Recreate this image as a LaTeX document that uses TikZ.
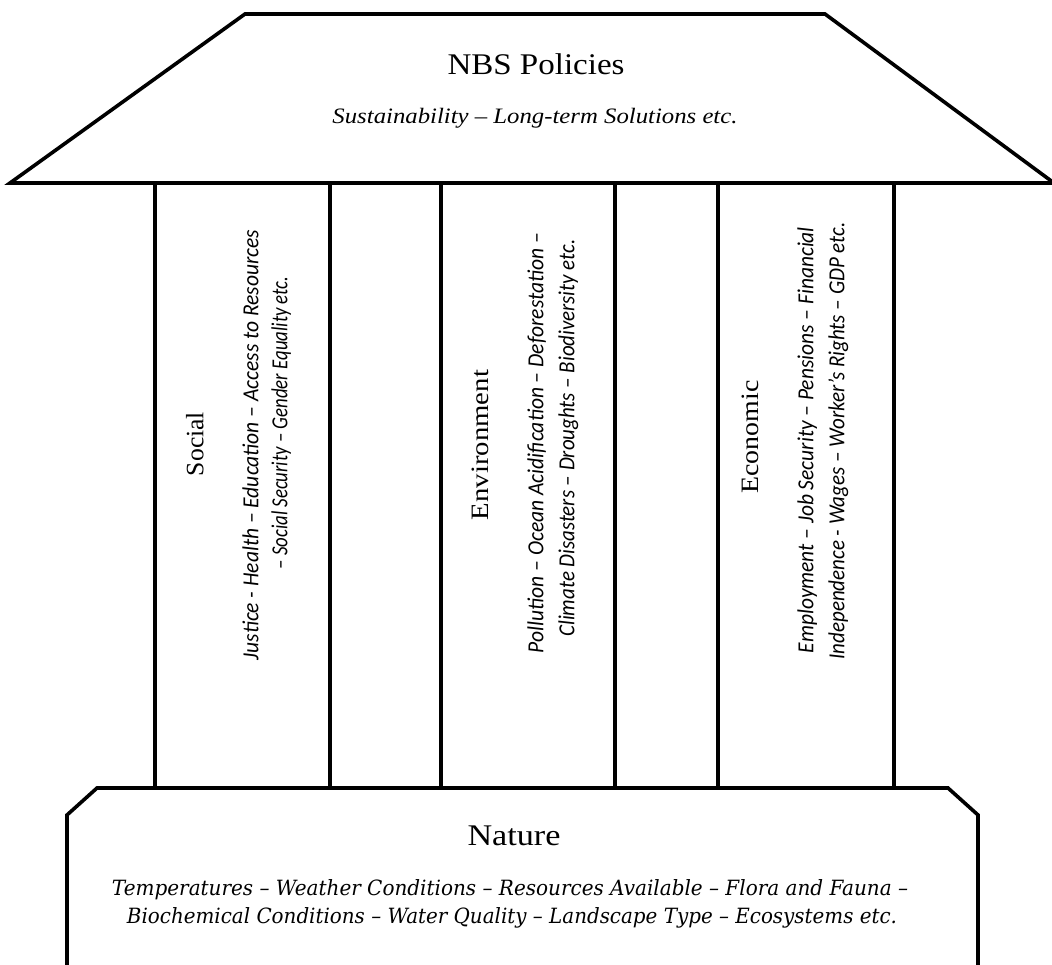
\documentclass[tikz,border=0pt]{standalone}
\usepackage{fontspec}
\usepackage{graphicx}
\setmainfont{Liberation Serif}
\newfontfamily\pilfont{Carlito}
\newfontfamily\natfont{DejaVu Serif}
\newcommand\fitw[2]{\resizebox{#1}{\height}{#2}}
\begin{document}
\begin{tikzpicture}[x=1pt,y=-1pt,
  part/.style={draw=black, line width=3.6pt, line join=miter},
  head/.style={inner sep=0pt, anchor=base, font=\fontsize{30}{36}\selectfont},
  phead/.style={inner sep=0pt, rotate=90, anchor=mid, font=\fontsize{25}{30}\selectfont},
  ptext/.style={inner sep=0pt, rotate=90, anchor=mid, font=\pilfont\itshape\fontsize{23}{27}\selectfont},
  ntext/.style={inner sep=0pt, anchor=base, font=\natfont\itshape\fontsize{21}{25}\selectfont},
  stext/.style={inner sep=0pt, anchor=base, font=\itshape\fontsize{22}{26}\selectfont}]
\useasboundingbox (0,0) rectangle (1052,965);
\clip (0,0) rectangle (1052,965);
\fill[white] (0,0) rectangle (1052,965);
% roof
\draw[part] (245,14) -- (825,14) -- (1054,183) -- (10,183) -- cycle;
% pillars
\draw[part] (155,183) rectangle (330,788);
\draw[part] (441,183) rectangle (615,788);
\draw[part] (718,183) rectangle (894,788);
% base
\draw[part] (67,980) -- (67,815) -- (97,788) -- (948,788) -- (978,815) -- (978,980);
% roof text
\node[head] (nbs) at (536,75) {\fitw{177pt}{NBS Policies}};
\node[stext] (sus) at (535,124) {\fitw{405pt}{Sustainability – Long-term Solutions etc.}};
% social
\node[phead] (soc) at (201,444) {\fitw{64pt}{Social}};
\node[ptext] (soc1) at (256,445) {\fitw{430pt}{Justice - Health – Education – Access to Resources}};
\node[ptext] (soc2) at (285,423) {\fitw{293pt}{– Social Security – Gender Equality etc.}};
% environment
\node[phead] (env) at (486,445) {\fitw{150pt}{Environment}};
\node[ptext] (env1) at (541,443) {\fitw{420pt}{Pollution – Ocean Acidification – Deforestation –}};
\node[ptext] (env2) at (572,438) {\fitw{397pt}{Climate Disasters – Droughts – Biodiversity etc.}};
% economic
\node[phead] (eco) at (756,437) {\fitw{113pt}{Economic}};
\node[ptext] (eco1) at (811,440) {\fitw{426pt}{Employment – Job Security – Pensions – Financial}};
\node[ptext] (eco2) at (842,441) {\fitw{437pt}{Independence - Wages – Worker’s Rights – GDP etc.}};
% nature
\node[head] (nat) at (514,845) {\fitw{93pt}{Nature}};
\node[ntext] (nat1) at (510,895) {\fitw{796pt}{Temperatures – Weather Conditions – Resources Available – Flora and Fauna –}};
\node[ntext] (nat2) at (512,923) {\fitw{770pt}{Biochemical Conditions – Water Quality – Landscape Type – Ecosystems etc.}};
\end{tikzpicture}
\end{document}
